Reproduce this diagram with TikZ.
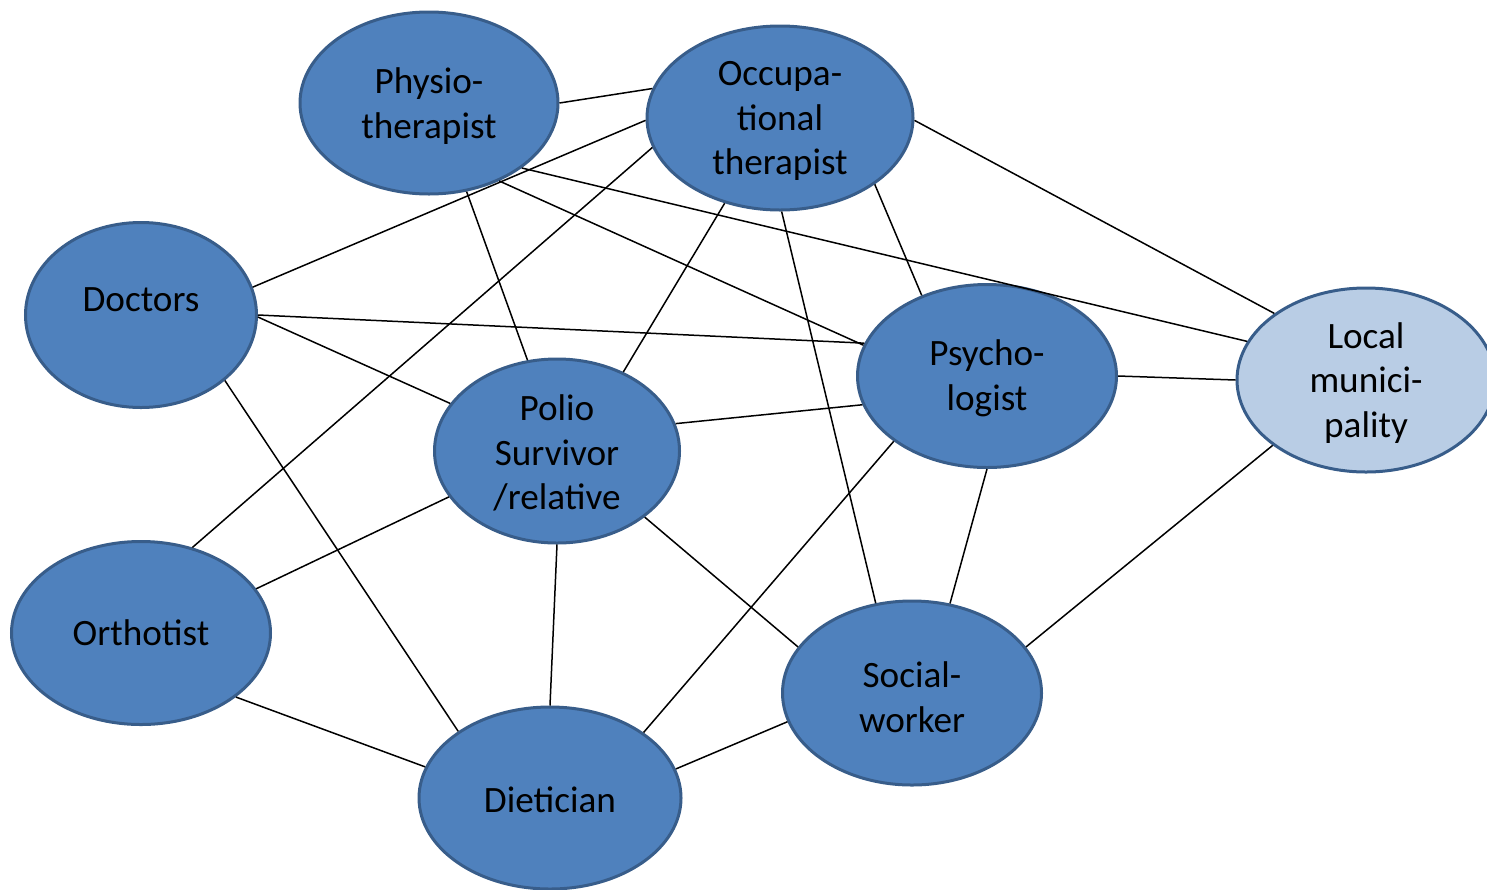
\documentclass[tikz,border=0pt]{standalone}
\usepackage{fontspec}
\setmainfont{Carlito}
\usetikzlibrary{shapes.geometric}
\definecolor{nodefill}{HTML}{4F81BD}
\definecolor{nodeline}{HTML}{385D8A}
\definecolor{lightfill}{HTML}{B9CDE5}
\tikzset{
  member/.style={ellipse, draw=nodeline, fill=nodefill, line width=1.5pt, inner sep=0pt},
  light/.style={member, fill=lightfill},
  txt/.style={inner sep=0pt, align=center, font=\fontsize{18.6}{22.3}\selectfont, text=black},
  link/.style={draw=black, line width=0.75pt}
}
\begin{document}
\begin{tikzpicture}[x=0.5pt, y=-0.5pt]
\useasboundingbox (0,0) rectangle (1487,889);
\clip (0,0) rectangle (1487,889);
\node[member, minimum width=129pt, minimum height=91pt] (phys) at (429,103) {};
\node[member, minimum width=133pt, minimum height=92pt] (occ) at (780,118) {};
\node[member, minimum width=115.5pt, minimum height=92.5pt] (doc) at (141,315) {};
\node[member, minimum width=122.5pt, minimum height=92pt] (polio) at (557,451) {};
\node[member, minimum width=129.5pt, minimum height=91.5pt] (psy) at (987,376) {};
\node[light, minimum width=129pt, minimum height=92pt] (loc) at (1366,380) {};
\node[member, minimum width=129.5pt, minimum height=91.5pt] (orth) at (141,633) {};
\node[member, minimum width=131pt, minimum height=91pt] (diet) at (550,798) {};
\node[member, minimum width=129.5pt, minimum height=92pt] (soc) at (912,693) {};

\node[txt] (physT) at (429,106) {Physio-\\therapist};
\node[txt] (occT) at (780,121) {Occupa-\\tional\\therapist};
\node[txt] (docT) at (141,300) {Doctors};
\node[txt] (polioT) at (557,453) {Polio\\Survivor\\/relative};
\node[txt] (psyT) at (987,378) {Psycho-\\logist};
\node[txt] (locT) at (1366,383) {Local\\munici-\\pality};
\node[txt] (orthT) at (141,633) {Orthotist};
\node[txt] (dietT) at (550,800) {Dietician};
\node[txt] (socT) at (912,697) {Social-\\worker};

\draw[link] (phys.0) -- (occ.167.7);
\draw[link] (phys.-35.5) -- (loc.162.9);
\draw[link] (phys.-48.6) -- (psy.166.9);
\draw[link] (phys.-67) -- (polio.108);
\draw[link] (occ.-1) -- (loc.144.6);
\draw[link] (occ.181.7) -- (doc.14.6);
\draw[link] (occ.193.5) -- (orth.59);
\draw[link] (occ.237.8) -- (polio.50.3);
\draw[link] (occ.-89.4) -- (soc.112.4);
\draw[link] (occ.-35.2) -- (psy.129.4);
\draw[link] (doc.0) -- (psy.165.7);
\draw[link] (doc.-1.5) -- (polio.156.5);
\draw[link] (doc.-38.7) -- (diet.144.5);
\draw[link] (polio.13.7) -- (psy.193.1);
\draw[link] (polio.203.3) -- (orth.21.8);
\draw[link] (polio.-90) -- (diet.90);
\draw[link] (polio.-37.3) -- (soc.158.2);
\draw[link] (psy.0) -- (loc.180);
\draw[link] (psy.215.4) -- (diet.35.2);
\draw[link] (psy.-90) -- (soc.67.1);
\draw[link] (loc.215.1) -- (soc.22.7);
\draw[link] (orth.-34.8) -- (diet.166.9);
\draw[link] (diet.13.5) -- (soc.193.5);
\end{tikzpicture}
\end{document}
